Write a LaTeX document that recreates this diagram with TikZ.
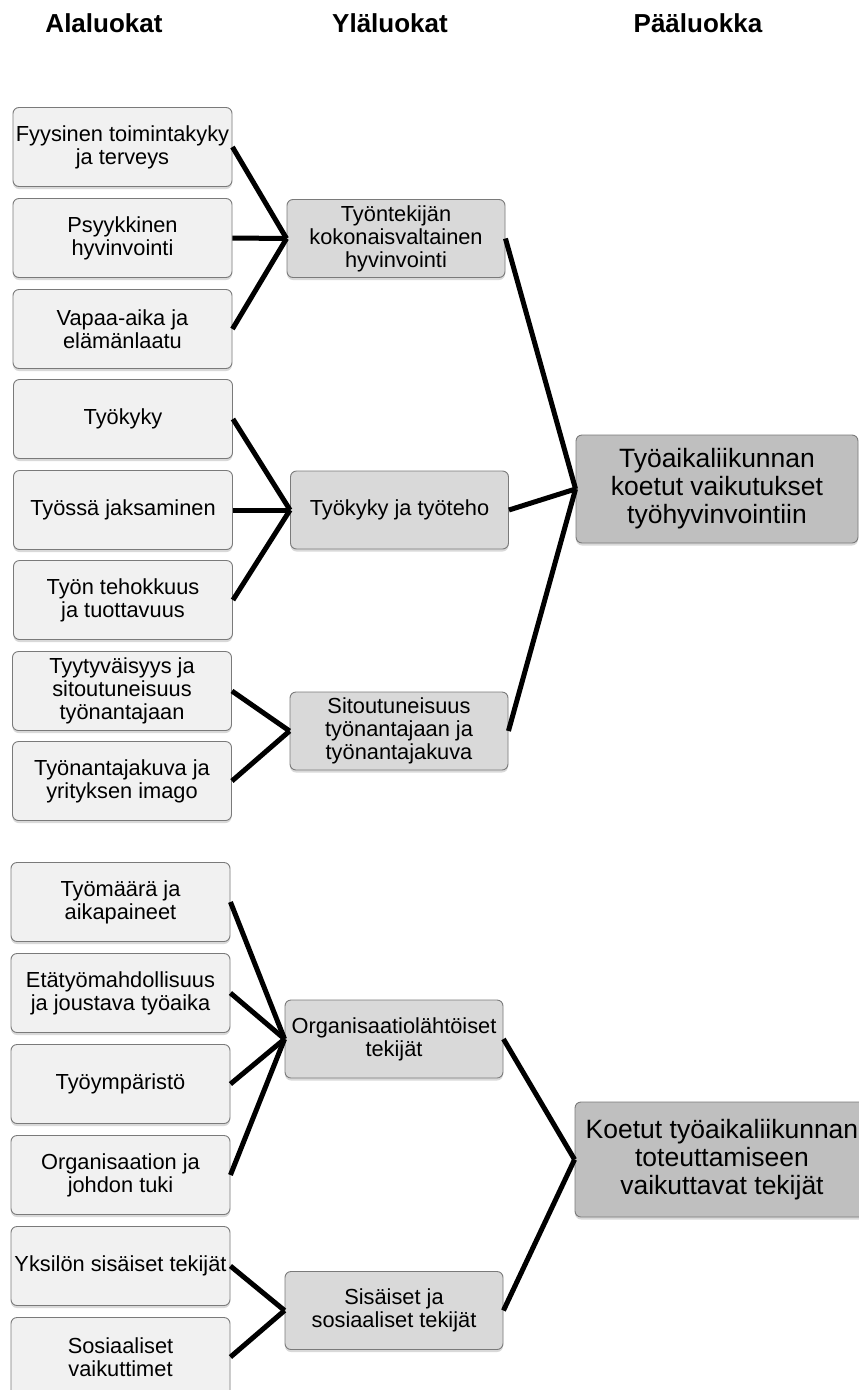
\documentclass[tikz,border=0pt]{standalone}
\usepackage{fontspec}
\setmainfont{Liberation Sans}
\usetikzlibrary{shadows}
\definecolor{alafill}{HTML}{F1F1F1}
\definecolor{ylafill}{HTML}{D9D9D9}
\definecolor{paafill}{HTML}{BFBFBF}
\definecolor{reuna}{HTML}{7A7A7A}
\tikzset{
  laatikko/.style={draw=reuna, line width=0.9pt, rounded corners=6pt, align=center, inner sep=0pt,
    drop shadow={shadow xshift=0pt, shadow yshift=-2.5pt, opacity=0.3}},
  alabox/.style={laatikko, fill=alafill, minimum width=219pt, minimum height=79pt,
    font=\fontsize{21.8}{22.8}\selectfont},
  ylabox/.style={laatikko, fill=ylafill, minimum width=218pt, minimum height=78pt,
    font=\fontsize{21.8}{23}\selectfont},
  paabox/.style={laatikko, fill=paafill, minimum height=108pt,
    font=\fontsize{26.5}{28}\selectfont},
  otsikko/.style={anchor=base, font=\bfseries\fontsize{26}{28}\selectfont},
  yhteys/.style={line width=5pt, black}
}

\begin{document}
\begin{tikzpicture}[x=1pt, y=-1pt]
\useasboundingbox (0,0) rectangle (859,1390);

% otsikot
\node[otsikko] (hala) at (104,32) {Alaluokat};
\node[otsikko] (hyla) at (390,32) {Yläluokat};
\node[otsikko] (hpaa) at (698,32) {Pääluokka};

% alaluokat
\node[alabox] (ala1) at (122.5,147) {Fyysinen toimintakyky\\ja terveys};
\node[alabox] (ala2) at (122.5,238) {Psyykkinen\\hyvinvointi};
\node[alabox] (ala3) at (122.5,329) {Vapaa-aika ja\\elämänlaatu};
\node[alabox] (ala4) at (123,419) {Työkyky};
\node[alabox] (ala5) at (123,510) {Työssä jaksaminen};
\node[alabox] (ala6) at (123,600) {Työn tehokkuus\\ja tuottavuus};
\node[alabox] (ala7) at (122,691) {Tyytyväisyys ja\\sitoutuneisuus\\työnantajaan};
\node[alabox] (ala8) at (122,781) {Työnantajakuva ja\\yrityksen imago};
\node[alabox] (ala9) at (120.5,902) {Työmäärä ja\\aikapaineet};
\node[alabox] (ala10) at (120.5,993) {Etätyömahdollisuus\\ja joustava työaika};
\node[alabox] (ala11) at (120.5,1084) {Työympäristö};
\node[alabox] (ala12) at (120.5,1175) {Organisaation ja\\johdon tuki};
\node[alabox] (ala13) at (120.5,1266) {Yksilön sisäiset tekijät};
\node[alabox] (ala14) at (120.5,1357) {Sosiaaliset\\vaikuttimet};

% yläluokat
\node[ylabox] (yla1) at (396,238.5) {Työntekijän\\kokonaisvaltainen\\hyvinvointi};
\node[ylabox] (yla2) at (399.5,510) {Työkyky ja työteho};
\node[ylabox] (yla3) at (399,731) {Sitoutuneisuus\\työnantajaan ja\\työnantajakuva};
\node[ylabox] (yla4) at (394,1039) {Organisaatiolähtöiset\\tekijät};
\node[ylabox] (yla5) at (394,1310.5) {Sisäiset ja\\sosiaaliset tekijät};

% pääluokat
\node[paabox, minimum width=282pt] (paa1) at (717,489) {Työaikaliikunnan\\koetut vaikutukset\\työhyvinvointiin};
\node[paabox, minimum width=294pt, minimum height=115pt] (paa2) at (722,1159.5) {Koetut työaikaliikunnan\\toteuttamiseen\\vaikuttavat tekijät};

% yhteydet
\draw[yhteys] (yla1.west) edge (ala1.east) edge (ala2.east) edge (ala3.east);
\draw[yhteys] (yla2.west) edge (ala4.east) edge (ala5.east) edge (ala6.east);
\draw[yhteys] (yla3.west) edge (ala7.east) edge (ala8.east);
\draw[yhteys] (yla4.west) edge (ala9.east) edge (ala10.east) edge (ala11.east) edge (ala12.east);
\draw[yhteys] (yla5.west) edge (ala13.east) edge (ala14.east);
\draw[yhteys] (paa1.west) edge (yla1.east) edge (yla2.east) edge (yla3.east);
\draw[yhteys] (paa2.west) edge (yla4.east) edge (yla5.east);
\end{tikzpicture}
\end{document}
